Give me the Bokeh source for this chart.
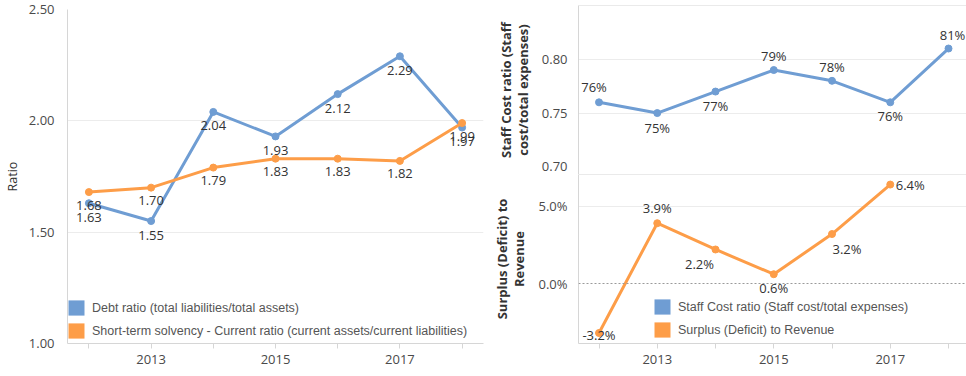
from bokeh.plotting import figure
from bokeh.layouts import row, column
from bokeh.models import (ColumnDataSource, FixedTicker, NumeralTickFormatter, Legend,
                          LegendItem, Span, Range1d, BoxAnnotation)
from bokeh.core.properties import value
from bokeh.embed import file_html
from bokeh.resources import INLINE

# ---------------- data ----------------
years = [2012, 2013, 2014, 2015, 2016, 2017, 2018]
debt_ratio = [1.63, 1.55, 2.04, 1.93, 2.12, 2.29, 1.97]
current_ratio = [1.68, 1.70, 1.79, 1.83, 1.83, 1.82, 1.99]
staff_cost_ratio = [0.76, 0.75, 0.77, 0.79, 0.78, 0.76, 0.81]
surplus_years = [2012, 2013, 2014, 2015, 2016, 2017]
surplus_to_revenue = [-0.032, 0.039, 0.022, 0.006, 0.032, 0.064]

x_label_years = [2013, 2015, 2017]
x_minor_years = [2012, 2014, 2016, 2018]
ratio_ticks = [1.00, 1.50, 2.00, 2.50]
staff_ticks = [0.70, 0.75, 0.80]
surplus_ticks = [0.0, 0.05]

left_labels = ["Debt ratio (total liabilities/total assets)",
               "Short-term solvency - Current ratio (current assets/current liabilities)"]
right_labels = ["Staff Cost ratio (Staff cost/total expenses)",
                "Surplus (Deficit) to Revenue"]

# ---------------- style ----------------
BLUE = "#6f9dd3"
ORANGE = "#fd9d48"
FONT = "Open Sans"
TICK_COLOR = "#4a4a4a"
LABEL_COLOR = "#333333"
GRID = "#ececec"
AXIS = "#d6d6d6"

# label placement (screen px offsets) for the right-hand charts
staff_dx = [-5, 0, 0, 0, 0, 0, 4]
staff_dy = [-15, 15, 14, -14, -14, 14, -14]
surplus_dx = [0, 0, -16, 0, 15, 20]
surplus_dy = [2, -15, 15, 14, 15, 0]


def style(p):
    p.background_fill_color = "white"
    p.border_fill_color = "white"
    p.outline_line_color = None
    p.xgrid.visible = False
    p.ygrid.grid_line_color = GRID
    for ax in p.yaxis:
        ax.axis_line_color = AXIS
        ax.major_tick_line_color = None
        ax.minor_tick_line_color = None
        ax.major_label_text_font = FONT
        ax.major_label_text_font_size = "13px"
        ax.major_label_text_color = TICK_COLOR
        ax.axis_label_text_font = FONT
        ax.axis_label_text_color = "#333333"
        ax.axis_label_text_line_height = 0.96
    for ax in p.xaxis:
        ax.axis_line_color = AXIS
        ax.ticker = FixedTicker(ticks=x_label_years, minor_ticks=x_minor_years)
        ax.major_tick_line_color = AXIS
        ax.minor_tick_line_color = AXIS
        ax.major_tick_out = 5
        ax.major_tick_in = 0
        ax.minor_tick_out = 5
        ax.minor_tick_in = 0
        ax.major_label_text_font = FONT
        ax.major_label_text_font_size = "13px"
        ax.major_label_text_color = TICK_COLOR
        ax.major_label_standoff = 6


def make_legend(p, labels, colors, series, loc, standoff):
    items = []
    for lab, col, (xs, ys) in zip(labels, colors, series):
        src = ColumnDataSource(dict(x=xs, y=ys))
        # zero-area quads: only their legend swatch is visible
        r = p.quad(left="x", right="x", top="y", bottom="y", source=src,
                   fill_color=col, line_color=None)
        items.append(LegendItem(label=lab, renderers=[r]))
    lg = Legend(items=items, location=loc, padding=0, margin=0, spacing=4,
                glyph_width=20, glyph_height=19, label_height=19, label_standoff=standoff,
                label_text_font="Liberation Sans", label_text_font_size="12.5px",
                label_text_color="#555555", background_fill_alpha=0,
                border_line_color=None)
    p.add_layout(lg)


def divider(p, y):
    # pane divider continuing into the axis-title area (canvas pixels)
    p.add_layout(BoxAnnotation(left=5, right=90, top=y, bottom=y + 1,
                               left_units="canvas", right_units="canvas",
                               top_units="canvas", bottom_units="canvas",
                               fill_color=AXIS, fill_alpha=1, line_color=None,
                               level="overlay"))


# ---------------- left chart ----------------
left = figure(width=488, height=376, output_backend="svg", toolbar_location=None, tools="",
              x_range=Range1d(2011.656, 2018.344), y_range=Range1d(1.0, 2.5),
              min_border_left=65, min_border_right=5, min_border_top=9, min_border_bottom=33)
style(left)
left.yaxis.ticker = FixedTicker(ticks=ratio_ticks)
left.yaxis.formatter = NumeralTickFormatter(format="0.00")
left.yaxis.major_label_standoff = 7
left.yaxis.axis_label = "Ratio"
left.yaxis.axis_label_standoff = 5
left.yaxis.axis_label_text_font_size = "12.5px"
left.yaxis.axis_label_text_font_style = "normal"

for vals, col in ((debt_ratio, BLUE), (current_ratio, ORANGE)):
    src = ColumnDataSource(dict(x=years, y=vals))
    left.line("x", "y", source=src, line_color=col, line_width=3)
    left.scatter("x", "y", source=src, size=7, fill_color=col, line_color=col)
for vals, dy in ((debt_ratio, 14), (current_ratio, 13)):
    src = ColumnDataSource(dict(x=years, y=vals, label=[f"{v:.2f}" for v in vals]))
    left.text("x", "y", "label", source=src, text_align="center", text_baseline="middle",
              y_offset=dy, text_font=value(FONT), text_font_size="13px", text_color=LABEL_COLOR)

make_legend(left, left_labels, [BLUE, ORANGE],
            [(years, debt_ratio), (years, current_ratio)], (-1, 3), 6)

# ---------------- right charts ----------------
xr = Range1d(2011.648, 2018.309)

top = figure(width=478, height=174, output_backend="svg", toolbar_location=None, tools="",
             x_range=xr, y_range=Range1d(0.6929, 0.85), x_axis_location=None,
             min_border_left=90, min_border_right=0, min_border_top=5, min_border_bottom=0)
style(top)
top.yaxis.ticker = FixedTicker(ticks=staff_ticks)
top.ygrid.ticker = FixedTicker(ticks=[0.75, 0.80])
top.yaxis.formatter = NumeralTickFormatter(format="0.00")
top.yaxis.major_label_standoff = 5
top.yaxis.axis_label = "Staff Cost ratio (Staff\ncost/total expenses)"
top.yaxis.axis_label_standoff = 7
top.yaxis.axis_label_text_font_size = "13px"
top.yaxis.axis_label_text_font_style = "bold"
top.add_layout(Span(location=0.85, dimension="width", line_color=AXIS, line_width=1))
divider(top, 5)

ssrc = ColumnDataSource(dict(x=years, y=staff_cost_ratio,
                             label=[f"{v:.0%}" for v in staff_cost_ratio],
                             dx=staff_dx, dy=staff_dy))
top.line("x", "y", source=ssrc, line_color=BLUE, line_width=3)
top.scatter("x", "y", source=ssrc, size=7, fill_color=BLUE, line_color=BLUE)
top.text("x", "y", "label", source=ssrc, x_offset="dx", y_offset="dy", text_align="center",
         text_baseline="middle", text_font=value(FONT), text_font_size="13px",
         text_color=LABEL_COLOR)

bot = figure(width=478, height=202, output_backend="svg", toolbar_location=None, tools="",
             x_range=xr, y_range=Range1d(-0.0388, 0.0705),
             min_border_left=90, min_border_right=0, min_border_top=0, min_border_bottom=33)
style(bot)
bot.yaxis.ticker = FixedTicker(ticks=surplus_ticks)
bot.ygrid.ticker = FixedTicker(ticks=[0.05])
bot.yaxis.formatter = NumeralTickFormatter(format="0.0%")
bot.yaxis.major_label_standoff = 5
bot.yaxis.axis_label = "Surplus (Deficit) to\nRevenue"
bot.yaxis.axis_label_standoff = 7
bot.yaxis.axis_label_text_font_size = "13px"
bot.yaxis.axis_label_text_font_style = "bold"
bot.add_layout(Span(location=0.0705, dimension="width", line_color=AXIS, line_width=1))
bot.add_layout(Span(location=0.0, dimension="width", line_color="#9a9a9a", line_width=1,
                    line_dash="2 2"))
divider(bot, 0)
divider(bot, 169)

usrc = ColumnDataSource(dict(x=surplus_years, y=surplus_to_revenue,
                             label=[f"{v:.1%}" for v in surplus_to_revenue],
                             dx=surplus_dx, dy=surplus_dy))
bot.line("x", "y", source=usrc, line_color=ORANGE, line_width=3)
bot.scatter("x", "y", source=usrc, size=7, fill_color=ORANGE, line_color=ORANGE)
bot.text("x", "y", "label", source=usrc, x_offset="dx", y_offset="dy", text_align="center",
         text_baseline="middle", text_font=value(FONT), text_font_size="13px",
         text_color=LABEL_COLOR)

make_legend(bot, right_labels, [BLUE, ORANGE],
            [(years, staff_cost_ratio), (surplus_years, surplus_to_revenue)], (74, 4), 6)

layout = row(left, column(top, bot, spacing=0), spacing=0)

open("out.html", "w").write(file_html(layout, INLINE))
